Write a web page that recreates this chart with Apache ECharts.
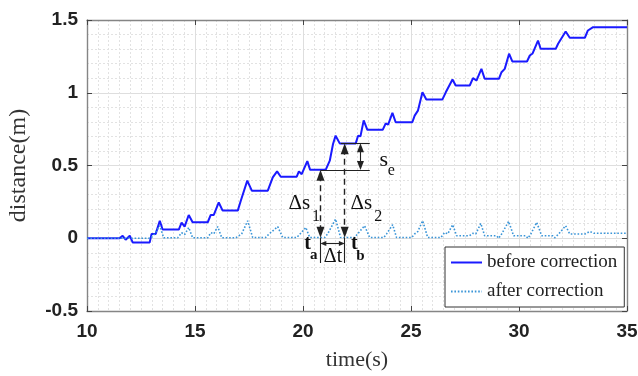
<!DOCTYPE html>
<html><head><meta charset="utf-8">
<script src="https://cdn.jsdelivr.net/npm/echarts@6/dist/echarts.min.js"></script>
<style>html,body{margin:0;padding:0;background:#fff}#c{width:638px;height:376px}</style>
</head><body><div id="c"></div>
<script>
// ---- data ----
const timeBefore = [10.00,11.51,11.65,11.79,11.98,12.12,12.90,12.99,13.18,13.37,13.50,14.25,14.38,14.52,14.71,14.89,15.59,15.73,15.87,16.10,16.28,16.98,17.12,17.42,17.63,18.37,18.60,18.80,18.97,19.71,19.81,19.94,20.20,20.33,21.05,21.24,21.39,21.51,21.70,22.44,22.55,22.66,22.81,22.98,23.69,23.83,23.94,24.14,24.29,25.06,25.17,25.32,25.53,25.71,26.45,26.61,26.70,26.92,27.07,27.72,27.87,28.03,28.26,28.41,29.07,29.19,29.34,29.54,29.69,30.37,30.50,30.63,30.88,31.00,31.70,31.81,31.88,32.16,32.35,33.05,33.19,33.43,35.00];
const distBefore = [0,0,0.017,-0.01,0.017,-0.03,-0.03,0.03,0.03,0.12,0.06,0.06,0.107,0.08,0.16,0.11,0.11,0.16,0.16,0.246,0.19,0.19,0.258,0.396,0.327,0.327,0.418,0.46,0.423,0.423,0.46,0.44,0.53,0.47,0.47,0.533,0.648,0.705,0.652,0.652,0.705,0.70,0.81,0.745,0.745,0.79,0.78,0.862,0.797,0.797,0.843,0.877,1.003,0.953,0.953,1.003,0.995,1.091,1.05,1.05,1.10,1.084,1.164,1.096,1.096,1.141,1.164,1.268,1.215,1.215,1.256,1.27,1.359,1.302,1.302,1.337,1.325,1.421,1.378,1.378,1.428,1.451,1.451];
const timeAfter = [10.00,12.95,13.13,13.37,13.55,14.20,14.38,14.52,14.71,14.89,15.59,15.73,15.87,16.05,16.24,16.89,16.95,17.16,17.44,17.67,18.27,18.41,18.83,19.06,19.71,19.85,20.13,20.31,21.01,21.14,21.51,21.74,22.39,22.53,22.85,23.09,23.74,23.87,24.15,24.33,25.03,25.17,25.31,25.54,25.77,26.38,26.56,26.70,26.93,27.11,27.71,27.86,28.00,28.23,28.41,28.97,29.06,29.20,29.52,29.75,30.31,30.41,30.55,30.82,31.05,31.56,31.65,31.84,32.16,32.35,33.05,33.28,33.47,35.00];
const distAfter = [0,0,0.03,0.086,0.003,0.003,0.038,0.025,0.074,0.003,0.003,0.038,0.03,0.08,0.003,0.003,-0.01,0.03,0.12,0.005,0.005,0.027,0.08,0.005,0.005,0.027,0.074,0.005,0.005,0.03,0.132,0.005,0.005,0.03,0.086,0.005,0.005,0.03,0.093,0.005,0.005,0.03,0.045,0.12,0.005,0.005,0.04,0.03,0.093,0.017,0.017,0.034,0.03,0.102,0.017,0.017,0,0.03,0.116,0.017,0.017,0,0.03,0.109,0.017,0.017,0.003,0.03,0.086,0.029,0.029,0.047,0.034,0.034];
const seriesNames = ['before correction','after correction'];
const xAxisTitle = 'time(s)';
const yAxisTitle = 'distance(m)';
const xRange = [10, 35], xStep = 5;
const yRange = [-0.5, 1.5], yStep = 0.5;

// annotation anchors (data units)
const tA = 20.81, tB = 21.93, sLow = 0.47, sHigh = 0.652, base = 0.005;
const tRight = 23.09, tSe = 22.66, dtLevel = -0.036, tickBottom = -0.17;
const labels = [
  {text:'Δs', at:[19.83,0.237], size:21, bold:false},
  {text:'1',  at:[20.60,0.146], size:16, bold:false},
  {text:'Δs', at:[22.70,0.237], size:21, bold:false},
  {text:'2',  at:[23.48,0.146], size:16, bold:false},
  {text:'s',  at:[23.74,0.535], size:22, bold:false},
  {text:'e',  at:[24.09,0.466], size:16, bold:false},
  {text:'t',  at:[20.21,-0.036], size:20, bold:true},
  {text:'a',  at:[20.50,-0.116], size:15, bold:true},
  {text:'t',  at:[22.38,-0.036], size:20, bold:true},
  {text:'b',  at:[22.66,-0.124], size:15, bold:true},
  {text:'Δt', at:[21.39,-0.124], size:20, bold:false}
];

const zip = (a, b) => a.map((v, i) => [v, b[i]]);
const serif = '"Liberation Serif","DejaVu Serif",serif';
const sans = '"Liberation Sans",Arial,sans-serif';

const chart = echarts.init(document.getElementById('c'), null, {renderer:'canvas'});

const arrowDY = 0.037, arrowSz = [8, 11];
const A = (c) => ({coord:c, symbol:'triangle', symbolSize:arrowSz});
const N = (c) => ({coord:c, symbol:'none'});
const dashed = {type:[6,4], color:'#222', width:1.4};
const solid = {type:'solid', color:'#222', width:1.1};

const axisCommon = {
  axisLine:{show:true, onZero:false, lineStyle:{color:'#858585', width:1.4}},
  axisTick:{show:true, inside:true, length:5, lineStyle:{color:'#444', width:1}},
};

chart.setOption({
  animation:false,
  backgroundColor:'#fff',
  grid:{left:87, right:11, top:20, bottom:65, containLabel:false, outerBoundsMode:'none'},
  legend:{
    data:seriesNames.map(n => ({name:n, itemStyle:{opacity:0}})),
    orient:'vertical', left:445, top:247,
    backgroundColor:'#fff', borderColor:'#333', borderWidth:1, borderRadius:0,
    padding:[6,7,6,5], itemGap:10, itemWidth:31, itemHeight:10,
    textStyle:{fontFamily:serif, fontSize:19, color:'#222'}
  },
  xAxis:[
    Object.assign({type:'value', min:xRange[0], max:xRange[1], interval:xStep, position:'bottom',
      name:xAxisTitle, nameLocation:'middle', nameGap:38,
      nameTextStyle:{fontFamily:serif, fontSize:22, color:'#333'},
      axisLabel:{fontFamily:sans, fontWeight:'bold', fontSize:19, color:'#222', margin:11},
      splitLine:{show:true, lineStyle:{color:'#dedede', width:1}},
      minorTick:{show:false, splitNumber:10},
      minorSplitLine:{show:true, lineStyle:{color:'#e2e2e2', type:[2,2], width:1}}
    }, axisCommon),
    Object.assign({type:'value', min:xRange[0], max:xRange[1], interval:xStep, position:'top',
      axisLabel:{show:false}, splitLine:{show:false}}, axisCommon)
  ],
  yAxis:[
    Object.assign({type:'value', min:yRange[0], max:yRange[1], interval:yStep, position:'left',
      name:yAxisTitle, nameLocation:'middle', nameGap:56,
      nameTextStyle:{fontFamily:serif, fontSize:24, color:'#333'},
      axisLabel:{fontFamily:sans, fontWeight:'bold', fontSize:19, color:'#222', margin:9,
        formatter:(v)=> String(v)},
      splitLine:{show:true, lineStyle:{color:'#dedede', width:1}},
      minorTick:{show:false, splitNumber:5},
      minorSplitLine:{show:true, lineStyle:{color:'#e2e2e2', type:[2,2], width:1}}
    }, axisCommon),
    Object.assign({type:'value', min:yRange[0], max:yRange[1], interval:yStep, position:'right',
      axisLabel:{show:false}, splitLine:{show:false}}, axisCommon)
  ],
  series:[
    {name:seriesNames[0], type:'line', data:zip(timeBefore, distBefore), showSymbol:false, symbol:'none',
      smooth:false, lineStyle:{color:'#1a1aff', width:2}, itemStyle:{color:'#1a1aff'}, z:3},
    {name:seriesNames[1], type:'line', data:zip(timeAfter, distAfter), showSymbol:false, symbol:'none',
      smooth:false, lineStyle:{color:'#3a95d8', width:1.6, type:[1.6,1.8]}, itemStyle:{color:'#3a95d8'}, z:4},
    {name:'annot', type:'line', data:[], silent:true, z:5,
      markLine:{silent:true, animation:false, label:{show:false}, emphasis:{disabled:true},
        data:[
          [Object.assign(A([tA, sLow - arrowDY]),{lineStyle:dashed}), A([tA, base + arrowDY])],
          [Object.assign(A([tB, sHigh - arrowDY]),{lineStyle:dashed}), A([tB, base + arrowDY])],
          [Object.assign(N([tA, sLow]),{lineStyle:solid}), N([tRight, sLow])],
          [Object.assign(N([tB - 0.18, sHigh]),{lineStyle:solid}), N([tRight, sHigh])],
          [Object.assign({coord:[tSe, sHigh - 0.03], symbol:'triangle', symbolSize:[7,9]},{lineStyle:solid}),
            {coord:[tSe, sLow + 0.03], symbol:'triangle', symbolSize:[7,9]}],
          [Object.assign(N([tA, base]),{lineStyle:solid}), N([tA, tickBottom])],
          [Object.assign(N([tB, base]),{lineStyle:solid}), N([tB, tickBottom])],
          [Object.assign({coord:[tA + 0.13, dtLevel], symbol:'triangle', symbolSize:[5,6]},{lineStyle:solid}),
            {coord:[tB - 0.13, dtLevel], symbol:'triangle', symbolSize:[5,6]}]
        ]
      }
    }
  ]
});

// text annotations placed through the chart's own coordinate conversion
const g = labels.map(l => {
  const p = chart.convertToPixel({xAxisIndex:0, yAxisIndex:0}, l.at);
  return {type:'text', x:p[0], y:p[1], z:10, silent:true,
    style:{text:l.text, fill:'#111', font:(l.bold?'bold ':'') + l.size + 'px ' + serif,
      align:'center', verticalAlign:'middle'}};
});
chart.setOption({graphic:g});
</script></body></html>
